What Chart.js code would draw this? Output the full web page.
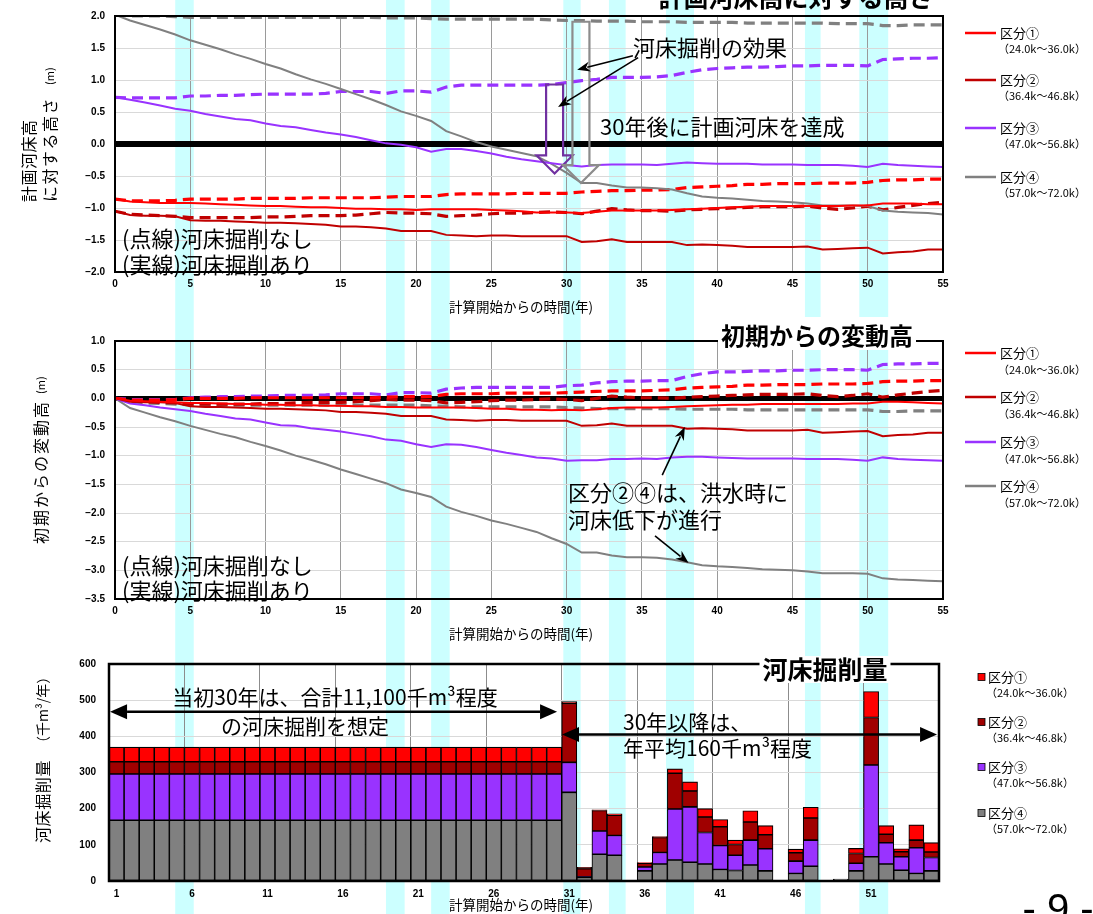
<!DOCTYPE html>
<html>
<head>
<meta charset="utf-8">
<script src="https://cdn.jsdelivr.net/npm/chart.js@4.4.1/dist/chart.umd.min.js"></script>
<style>
  html, body { margin: 0; padding: 0; background: #fff; }
  #page { position: relative; width: 1093px; height: 914px; overflow: hidden; }
  #bands { position: absolute; left: 0; top: 0; }
  canvas.c { position: absolute; left: 0; }
  #c1 { top: 0; }
  #c2 { top: 312px; }
  #c3 { top: 645px; }
</style>
</head>
<body>
<div id="page">
  <canvas id="bands" width="1093" height="914"></canvas>
  <canvas id="c1" class="c" width="1093" height="320"></canvas>
  <canvas id="c2" class="c" width="1093" height="338"></canvas>
  <canvas id="c3" class="c" width="1093" height="269"></canvas>
</div>
<script>
// ---- time axis (years since start of computation) ----
const years = [0,1,2,3,4,5,6,7,8,9,10,11,12,13,14,15,16,17,18,19,20,21,22,23,24,25,26,27,
  28,29,30,31,32,33,34,35,36,37,38,39,40,41,42,43,44,45,46,47,48,49,50,51,52,53,54,55];

// ---- height relative to the planned riverbed (m); Cut = with excavation, None = without ----
const planCut1 = [-0.86,-0.90,-0.91,-0.92,-0.92,-0.92,-0.93,-0.94,-0.95,-0.96,-0.97,-0.97,-0.98,-0.99,-0.99,-1.00,-1.01,-1.01,-1.02,-1.02,-1.03,-1.02,-1.02,-1.02,-1.02,-1.03,-1.04,-1.05,-1.07,-1.07,-1.07,-1.08,-1.06,-1.04,-1.04,-1.04,-1.04,-1.03,-1.02,-1.01,-1.00,-0.99,-0.98,-0.97,-0.97,-0.97,-0.97,-0.97,-0.97,-0.96,-0.96,-0.93,-0.93,-0.93,-0.94,-0.94];
const planNone1 = [-0.86,-0.89,-0.89,-0.89,-0.88,-0.86,-0.86,-0.86,-0.86,-0.85,-0.85,-0.85,-0.85,-0.84,-0.84,-0.84,-0.84,-0.84,-0.83,-0.82,-0.82,-0.82,-0.79,-0.78,-0.78,-0.78,-0.78,-0.77,-0.77,-0.77,-0.77,-0.75,-0.74,-0.73,-0.73,-0.72,-0.72,-0.71,-0.68,-0.67,-0.66,-0.65,-0.63,-0.63,-0.62,-0.62,-0.62,-0.61,-0.61,-0.61,-0.60,-0.57,-0.56,-0.56,-0.55,-0.55];
const planCut2 = [-1.05,-1.11,-1.12,-1.12,-1.13,-1.19,-1.20,-1.20,-1.21,-1.22,-1.23,-1.23,-1.24,-1.25,-1.26,-1.29,-1.29,-1.30,-1.32,-1.36,-1.36,-1.36,-1.42,-1.43,-1.44,-1.43,-1.43,-1.44,-1.44,-1.44,-1.44,-1.53,-1.52,-1.49,-1.53,-1.53,-1.53,-1.53,-1.58,-1.57,-1.58,-1.59,-1.61,-1.61,-1.61,-1.61,-1.60,-1.65,-1.64,-1.63,-1.62,-1.71,-1.69,-1.68,-1.65,-1.65];
const planNone2 = [-1.05,-1.10,-1.11,-1.12,-1.13,-1.15,-1.15,-1.15,-1.15,-1.15,-1.14,-1.14,-1.13,-1.12,-1.12,-1.12,-1.11,-1.09,-1.07,-1.08,-1.08,-1.09,-1.13,-1.12,-1.11,-1.09,-1.08,-1.08,-1.07,-1.06,-1.07,-1.09,-1.05,-1.01,-1.03,-1.04,-1.04,-1.05,-1.03,-1.02,-1.01,-1.00,-0.99,-0.98,-0.98,-0.98,-0.97,-1.00,-1.02,-1.00,-0.97,-1.03,-0.99,-0.96,-0.93,-0.91];
const planCut3 = [0.73,0.69,0.65,0.60,0.55,0.52,0.47,0.43,0.39,0.37,0.32,0.28,0.26,0.22,0.18,0.15,0.11,0.06,0.01,-0.01,-0.05,-0.12,-0.08,-0.08,-0.11,-0.15,-0.20,-0.24,-0.27,-0.30,-0.33,-0.35,-0.33,-0.32,-0.32,-0.32,-0.33,-0.31,-0.29,-0.30,-0.31,-0.31,-0.31,-0.32,-0.32,-0.32,-0.33,-0.33,-0.33,-0.34,-0.36,-0.31,-0.33,-0.34,-0.35,-0.36];
const planNone3 = [0.73,0.72,0.72,0.72,0.72,0.75,0.75,0.76,0.76,0.77,0.78,0.78,0.78,0.78,0.79,0.82,0.82,0.82,0.79,0.83,0.83,0.81,0.89,0.92,0.92,0.92,0.92,0.92,0.92,0.93,0.96,0.99,1.01,1.04,1.04,1.04,1.05,1.07,1.12,1.16,1.18,1.19,1.20,1.20,1.21,1.22,1.22,1.23,1.23,1.23,1.22,1.32,1.33,1.34,1.34,1.35];
const planCut4 = [2.02,1.93,1.86,1.79,1.71,1.62,1.55,1.48,1.40,1.33,1.25,1.18,1.09,1.01,0.94,0.86,0.78,0.70,0.61,0.51,0.44,0.36,0.20,0.12,0.03,-0.04,-0.09,-0.14,-0.19,-0.31,-0.45,-0.61,-0.61,-0.65,-0.68,-0.68,-0.69,-0.71,-0.77,-0.82,-0.84,-0.85,-0.87,-0.89,-0.90,-0.91,-0.93,-0.96,-0.96,-0.96,-0.97,-1.04,-1.06,-1.07,-1.08,-1.10];
const planNone4 = [2.02,2.00,2.00,2.00,1.99,1.98,1.98,1.98,1.98,1.98,1.98,1.98,1.98,1.98,1.98,1.98,1.98,1.98,1.97,1.97,1.97,1.96,1.95,1.95,1.95,1.95,1.95,1.95,1.95,1.94,1.93,1.93,1.92,1.92,1.92,1.91,1.91,1.91,1.90,1.90,1.90,1.90,1.89,1.89,1.89,1.89,1.89,1.89,1.88,1.88,1.88,1.85,1.85,1.86,1.86,1.86];

// ---- change from the initial bed (m) ----
const chgCut1 = [0,-0.04,-0.05,-0.06,-0.07,-0.08,-0.08,-0.09,-0.10,-0.10,-0.11,-0.11,-0.12,-0.12,-0.13,-0.13,-0.14,-0.14,-0.15,-0.15,-0.16,-0.16,-0.16,-0.16,-0.17,-0.18,-0.18,-0.20,-0.20,-0.21,-0.20,-0.21,-0.19,-0.17,-0.16,-0.16,-0.16,-0.15,-0.14,-0.13,-0.12,-0.11,-0.11,-0.10,-0.10,-0.10,-0.10,-0.10,-0.10,-0.09,-0.09,-0.06,-0.06,-0.07,-0.08,-0.09];
const chgNone1 = [0,-0.03,-0.03,-0.03,-0.02,0.00,0.00,0.00,0.00,0.01,0.01,0.01,0.01,0.01,0.01,0.01,0.01,0.01,0.02,0.03,0.03,0.03,0.07,0.08,0.08,0.08,0.09,0.09,0.09,0.09,0.10,0.11,0.12,0.13,0.13,0.13,0.14,0.15,0.18,0.19,0.20,0.21,0.23,0.23,0.24,0.24,0.24,0.25,0.25,0.25,0.26,0.29,0.30,0.30,0.31,0.31];
const chgCut2 = [0,-0.06,-0.07,-0.07,-0.08,-0.14,-0.15,-0.15,-0.16,-0.17,-0.18,-0.18,-0.19,-0.20,-0.21,-0.24,-0.24,-0.25,-0.27,-0.31,-0.31,-0.31,-0.37,-0.38,-0.39,-0.38,-0.38,-0.39,-0.39,-0.39,-0.39,-0.48,-0.47,-0.44,-0.48,-0.48,-0.48,-0.48,-0.53,-0.52,-0.53,-0.54,-0.56,-0.56,-0.56,-0.56,-0.55,-0.60,-0.59,-0.58,-0.57,-0.66,-0.64,-0.63,-0.60,-0.60];
const chgNone2 = [0,-0.05,-0.06,-0.07,-0.08,-0.10,-0.10,-0.10,-0.10,-0.10,-0.09,-0.09,-0.08,-0.07,-0.07,-0.07,-0.06,-0.04,-0.02,-0.03,-0.03,-0.04,-0.08,-0.07,-0.06,-0.04,-0.03,-0.03,-0.02,-0.01,-0.02,-0.04,0.00,0.04,0.02,0.01,0.01,0.00,0.02,0.03,0.04,0.05,0.06,0.07,0.07,0.07,0.08,0.05,0.03,0.05,0.08,0.02,0.06,0.09,0.12,0.14];
const chgCut3 = [0,-0.09,-0.12,-0.16,-0.19,-0.22,-0.27,-0.31,-0.35,-0.37,-0.42,-0.47,-0.48,-0.52,-0.55,-0.58,-0.62,-0.66,-0.72,-0.74,-0.80,-0.85,-0.80,-0.81,-0.85,-0.90,-0.95,-0.99,-1.03,-1.05,-1.09,-1.08,-1.08,-1.06,-1.06,-1.05,-1.06,-1.03,-1.02,-1.02,-1.03,-1.04,-1.05,-1.05,-1.05,-1.05,-1.06,-1.06,-1.06,-1.07,-1.09,-1.03,-1.06,-1.07,-1.08,-1.09];
const chgNone3 = [0,-0.02,-0.02,-0.02,-0.02,0.01,0.02,0.03,0.03,0.04,0.04,0.05,0.05,0.05,0.06,0.08,0.08,0.08,0.06,0.10,0.10,0.09,0.16,0.18,0.19,0.19,0.19,0.19,0.19,0.19,0.22,0.23,0.27,0.29,0.30,0.30,0.31,0.31,0.38,0.43,0.46,0.46,0.47,0.48,0.48,0.49,0.49,0.50,0.50,0.50,0.49,0.59,0.60,0.60,0.61,0.61];
const chgCut4 = [0,-0.17,-0.25,-0.33,-0.40,-0.48,-0.55,-0.62,-0.68,-0.76,-0.83,-0.91,-1.00,-1.07,-1.15,-1.24,-1.32,-1.40,-1.48,-1.59,-1.65,-1.72,-1.89,-1.98,-2.05,-2.13,-2.19,-2.26,-2.33,-2.44,-2.54,-2.69,-2.69,-2.74,-2.77,-2.77,-2.78,-2.81,-2.86,-2.91,-2.93,-2.94,-2.96,-2.98,-2.99,-3.00,-3.02,-3.05,-3.05,-3.05,-3.06,-3.14,-3.16,-3.17,-3.18,-3.19];
const chgNone4 = [0,-0.06,-0.08,-0.09,-0.10,-0.11,-0.12,-0.12,-0.12,-0.12,-0.12,-0.12,-0.12,-0.12,-0.12,-0.12,-0.12,-0.12,-0.12,-0.12,-0.12,-0.13,-0.14,-0.15,-0.15,-0.15,-0.15,-0.15,-0.15,-0.15,-0.16,-0.17,-0.18,-0.18,-0.18,-0.18,-0.18,-0.18,-0.19,-0.19,-0.19,-0.19,-0.20,-0.20,-0.20,-0.20,-0.20,-0.20,-0.20,-0.20,-0.20,-0.23,-0.23,-0.22,-0.22,-0.22];

// ---- annual excavation volume (thousand m3 / year) ----
const barYears = [1,2,3,4,5,6,7,8,9,10,11,12,13,14,15,16,17,18,19,20,21,22,23,24,25,26,27,28,29,30,
  31,32,33,34,35,36,37,38,39,40,41,42,43,44,45,46,47,48,49,50,51,52,53,54,55];
const dig1 = [40,40,40,40,40,40,40,40,40,40,40,40,40,40,40,40,40,40,40,40,40,40,40,40,40,40,40,40,40,40,
  5,4,2,4,0,2,3,12,25,23,20,12,31,25,0,10,30,0,0,14,72,24,8,42,26];
const dig2 = [34,34,34,34,34,34,34,34,34,34,34,34,34,34,34,34,34,34,34,34,34,34,34,34,34,34,34,34,34,34,
  163,22,57,56,0,10,41,99,44,43,52,30,50,39,0,23,61,0,0,27,131,23,14,21,15];
const dig3 = [128,128,128,128,128,128,128,128,128,128,128,128,128,128,128,128,128,128,128,128,128,128,128,128,128,128,128,128,128,128,
  83,2,64,55,0,11,32,141,153,87,66,42,69,61,0,34,72,0,0,21,254,59,37,71,37];
const dig4 = [168,168,168,168,168,168,168,168,168,168,168,168,168,168,168,168,168,168,168,168,168,168,168,168,168,168,168,168,168,168,
  245,10,74,71,0,28,47,58,52,47,32,29,44,28,0,21,41,0,5,28,67,47,30,21,28];

// ---- sections, colours, flood years ----
const sectionNames = ['区分①', '区分②', '区分③', '区分④'];
const sectionRanges = ['（24.0k～36.0k）', '（36.4k～46.8k）', '（47.0k～56.8k）', '（57.0k～72.0k）'];
const lineColors = ['#FF0000', '#C00000', '#9933FF', '#808080'];
const barColors = ['#FF0000', '#A00000', '#9933FF', '#808080'];
const floodBands = [[4.0, 5.23], [18.0, 19.24], [21.0, 22.23], [29.78, 30.93], [32.81, 33.92], [36.6, 38.46], [45.83, 46.87], [49.44, 51.36]];

const JP = "'Noto Sans CJK JP', 'Noto Sans', sans-serif";
Chart.defaults.font.family = "'Liberation Sans', Arial, sans-serif";
Chart.defaults.color = '#000';

const pts = arr => years.map((t, i) => ({ x: t, y: arr[i] }));
function lineDs(label, arr, color, dashed) {
  return {
    label, data: pts(arr), borderColor: color, backgroundColor: color,
    borderWidth: dashed ? 3.2 : 2, borderDash: dashed ? [11, 6] : [],
    pointRadius: 0, tension: 0, fill: false
  };
}
const isZero = c => c.tick && Math.abs(c.tick.value) < 1e-9;
const tickFont = { size: 10, weight: 'bold' };

function lineScales(min, max, xAxisH, zeroW) {
  return {
    x: {
      type: 'linear', min: 0, max: 55,
      afterFit: s => { s.height = xAxisH; },
      ticks: { stepSize: 5, padding: 6, maxRotation: 0, font: tickFont },
      grid: { drawTicks: false, color: c => (c.tick && c.tick.value > 0 && c.tick.value < 55) ? '#9a9a9a' : 'rgba(0,0,0,0)' },
      border: { display: false }
    },
    y: {
      min, max,
      afterFit: s => { s.width = 115; },
      ticks: { stepSize: 0.5, padding: 10, font: tickFont, callback: v => (v < -1e-9 ? '−' : '') + Math.abs(v).toFixed(1) },
      grid: { drawTicks: false, color: c => isZero(c) ? '#000' : '#d9d9d9', lineWidth: c => isZero(c) ? zeroW : 1 },
      border: { display: false }
    }
  };
}

// ---- drawing helpers ----
function drawRotated(ctx, x, y, parts) {
  ctx.save();
  ctx.translate(x, y);
  ctx.rotate(-Math.PI / 2);
  ctx.textAlign = 'left';
  ctx.textBaseline = 'middle';
  ctx.fillStyle = '#000';
  let cx = 0;
  for (const p of parts) {
    if (p.gap) { cx += p.gap; continue; }
    ctx.font = `${p.size}px ${JP}`;
    ctx.letterSpacing = (p.spacing || 0) + 'px';
    ctx.fillText(p.text, cx, 0);
    cx += ctx.measureText(p.text).width;
  }
  ctx.restore();
}
function pointer(ctx, x1, y1, x2, y2) {
  const a = Math.atan2(y2 - y1, x2 - x1), L = 13, W = 5;
  const c = Math.cos(a), s = Math.sin(a);
  ctx.save();
  ctx.strokeStyle = '#000'; ctx.fillStyle = '#000'; ctx.lineWidth = 1.6;
  ctx.beginPath(); ctx.moveTo(x1, y1); ctx.lineTo(x2 - L * 0.8 * c, y2 - L * 0.8 * s); ctx.stroke();
  ctx.beginPath();
  ctx.moveTo(x2, y2);
  ctx.lineTo(x2 - L * c + W * s, y2 - L * s - W * c);
  ctx.lineTo(x2 - L * 0.7 * c, y2 - L * 0.7 * s);
  ctx.lineTo(x2 - L * c - W * s, y2 - L * s + W * c);
  ctx.closePath(); ctx.fill();
  ctx.restore();
}
function hollowDown(ctx, x, yTop, yTip, color) {
  const sw = 8.5, hw = 18, hh = 18;
  ctx.save();
  ctx.strokeStyle = color; ctx.lineWidth = 2.2; ctx.lineJoin = 'miter';
  ctx.beginPath();
  ctx.moveTo(x - sw, yTop); ctx.lineTo(x + sw, yTop); ctx.lineTo(x + sw, yTip - hh);
  ctx.lineTo(x + hw, yTip - hh); ctx.lineTo(x, yTip); ctx.lineTo(x - hw, yTip - hh);
  ctx.lineTo(x - sw, yTip - hh); ctx.closePath();
  ctx.stroke();
  ctx.restore();
}
function doubleArrow(ctx, x1, x2, y) {
  const L = 17, H = 7.5;
  ctx.save();
  ctx.strokeStyle = '#000'; ctx.fillStyle = '#000'; ctx.lineWidth = 2.5;
  ctx.beginPath(); ctx.moveTo(x1 + L, y); ctx.lineTo(x2 - L, y); ctx.stroke();
  ctx.beginPath(); ctx.moveTo(x1, y); ctx.lineTo(x1 + L, y - H); ctx.lineTo(x1 + L, y + H); ctx.closePath(); ctx.fill();
  ctx.beginPath(); ctx.moveTo(x2, y); ctx.lineTo(x2 - L, y - H); ctx.lineTo(x2 - L, y + H); ctx.closePath(); ctx.fill();
  ctx.restore();
}

// ---- frame, titles, legend and notes drawn on top of each chart ----
function decoPlugin(cfg) {
  return {
    id: 'deco',
    afterDraw(chart) {
      const { ctx, chartArea: a, scales } = chart;
      ctx.save();
      ctx.strokeStyle = '#000';
      ctx.lineWidth = cfg.frame;
      ctx.strokeRect(a.left, a.top, a.right - a.left, a.bottom - a.top);

      if (cfg.annotate) cfg.annotate(ctx, scales.x, scales.y);

      ctx.fillStyle = '#000';
      ctx.textBaseline = 'middle';
      for (const t of cfg.texts || []) {
        ctx.font = `${t.weight || 'normal'} ${t.size}px ${JP}`;
        ctx.textAlign = t.align || 'left';
        ctx.fillText(t.text, t.x, t.y);
      }

      const T = cfg.title;
      ctx.font = `bold ${T.size}px ${JP}`;
      ctx.textAlign = 'center';
      if (T.box) {
        const w = ctx.measureText(T.text).width;
        ctx.fillStyle = '#fff';
        ctx.fillRect(T.x - w / 2 - 3, T.box[0], w + 6, T.box[1] - T.box[0]);
      }
      ctx.fillStyle = '#000';
      ctx.fillText(T.text, T.x, T.y);

      ctx.font = `13.5px ${JP}`;
      ctx.textAlign = 'center';
      ctx.fillText('計算開始からの時間(年)', cfg.xTitle.x, cfg.xTitle.y);

      for (const col of cfg.yTitle) drawRotated(ctx, col.x, col.y, col.parts);

      const L = cfg.legend;
      ctx.textAlign = 'left';
      sectionNames.forEach((name, i) => {
        const y = L.ys[i];
        if (L.kind === 'line') {
          ctx.strokeStyle = lineColors[i]; ctx.lineWidth = 2.5; ctx.setLineDash([]);
          ctx.beginPath(); ctx.moveTo(965, y); ctx.lineTo(996, y); ctx.stroke();
        } else {
          ctx.fillStyle = barColors[i];
          ctx.fillRect(978, y - 3.5, 7, 7);
          ctx.strokeStyle = '#000'; ctx.lineWidth = 0.8;
          ctx.strokeRect(978, y - 3.5, 7, 7);
        }
        ctx.fillStyle = '#000';
        ctx.font = `13px ${JP}`;
        ctx.fillText(name, L.tx, y);
        ctx.font = `11px ${JP}`;
        ctx.fillText(sectionRanges[i], L.tx - 2, y + L.sub);
      });
      ctx.restore();
    }
  };
}

const baseOpts = {
  responsive: false, animation: false, devicePixelRatio: 1,
  plugins: { legend: { display: false }, tooltip: { enabled: false } }
};

function lineSets(cut, none) {
  return [
    lineDs('区分① 掘削あり', cut[0], lineColors[0], false),
    lineDs('区分② 掘削あり', cut[1], lineColors[1], false),
    lineDs('区分③ 掘削あり', cut[2], lineColors[2], false),
    lineDs('区分④ 掘削あり', cut[3], lineColors[3], false),
    lineDs('区分① 掘削なし', none[0], lineColors[0], true),
    lineDs('区分② 掘削なし', none[1], lineColors[1], true),
    lineDs('区分③ 掘削なし', none[2], lineColors[2], true),
    lineDs('区分④ 掘削なし', none[3], lineColors[3], true)
  ];
}

// ---- chart 1: height relative to the planned riverbed ----
const chart1 = new Chart(document.getElementById('c1'), {
  type: 'line',
  data: { datasets: lineSets([planCut1, planCut2, planCut3, planCut4], [planNone1, planNone2, planNone3, planNone4]) },
  options: Object.assign({}, baseOpts, {
    layout: { padding: { left: 0, right: 150, top: 15, bottom: 0 } },
    scales: lineScales(-2, 2, 48, 6)
  }),
  plugins: [decoPlugin({
    frame: 2,
    title: { text: '計画河床高に対する高さ', x: 796, y: -3, size: 25 },
    xTitle: { x: 521, y: 307 },
    yTitle: [
      { x: 29, y: 202, parts: [{ text: '計画河床高', size: 16, spacing: 0.5 }] },
      { x: 50, y: 202, parts: [{ text: 'に対する高さ', size: 16, spacing: 1.5 }, { gap: 12 }, { text: '(m)', size: 11 }] }
    ],
    legend: { kind: 'line', ys: [33, 80, 128, 177], sub: 16, tx: 1000 },
    texts: [
      { text: '河床掘削の効果', x: 633, y: 48, size: 22 },
      { text: '30年後に計画河床を達成', x: 600, y: 127, size: 22 },
      { text: '(点線)河床掘削なし', x: 122, y: 239, size: 22 },
      { text: '(実線)河床掘削あり', x: 122, y: 265, size: 22 }
    ],
    annotate(ctx, x, y) {
      hollowDown(ctx, x.getPixelForValue(29.2), y.getPixelForValue(0.93), y.getPixelForValue(-0.46), '#7030A0');
      hollowDown(ctx, x.getPixelForValue(30.95), y.getPixelForValue(1.91), y.getPixelForValue(-0.61), '#8c8c8c');
      pointer(ctx, x.getPixelForValue(34.4), y.getPixelForValue(1.38), x.getPixelForValue(30.7), y.getPixelForValue(1.16));
      pointer(ctx, x.getPixelForValue(34.75), y.getPixelForValue(1.35), x.getPixelForValue(29.43), y.getPixelForValue(0.58));
    }
  })]
});

// ---- chart 2: change from the initial bed ----
new Chart(document.getElementById('c2'), {
  type: 'line',
  data: { datasets: lineSets([chgCut1, chgCut2, chgCut3, chgCut4], [chgNone1, chgNone2, chgNone3, chgNone4]) },
  options: Object.assign({}, baseOpts, {
    layout: { padding: { left: 0, right: 150, top: 29, bottom: 0 } },
    scales: lineScales(-3.5, 1, 51, 5)
  }),
  plugins: [decoPlugin({
    frame: 2,
    title: { text: '初期からの変動高', x: 817, y: 24, size: 24, box: [5, 38] },
    xTitle: { x: 521, y: 322 },
    yTitle: [
      { x: 41, y: 232, parts: [{ text: '初期からの変動高', size: 16, spacing: 2 }, { gap: 6 }, { text: '(m)', size: 11 }] }
    ],
    legend: { kind: 'line', ys: [41, 85, 130, 174], sub: 17, tx: 1000 },
    texts: [
      { text: '区分②④は、洪水時に', x: 568, y: 181, size: 22 },
      { text: '河床低下が進行', x: 568, y: 208, size: 22 },
      { text: '(点線)河床掘削なし', x: 122, y: 254, size: 22 },
      { text: '(実線)河床掘削あり', x: 122, y: 279, size: 22 }
    ],
    annotate(ctx, x, y) {
      pointer(ctx, x.getPixelForValue(36.35), y.getPixelForValue(-1.34), x.getPixelForValue(37.85), y.getPixelForValue(-0.50));
      pointer(ctx, x.getPixelForValue(35.87), y.getPixelForValue(-2.40), x.getPixelForValue(38.1), y.getPixelForValue(-2.87));
    }
  })]
});

// ---- chart 3: annual excavation volume (stacked) ----
new Chart(document.getElementById('c3'), {
  type: 'bar',
  data: {
    labels: barYears,
    datasets: [
      { label: sectionNames[3], data: dig4, backgroundColor: barColors[3] },
      { label: sectionNames[2], data: dig3, backgroundColor: barColors[2] },
      { label: sectionNames[1], data: dig2, backgroundColor: barColors[1] },
      { label: sectionNames[0], data: dig1, backgroundColor: barColors[0] }
    ]
  },
  options: Object.assign({}, baseOpts, {
    layout: { padding: { left: 0, right: 154, top: 18, bottom: 0 } },
    datasets: { bar: { barPercentage: 1, categoryPercentage: 1, borderColor: '#000', borderWidth: 1.1, borderSkipped: false } },
    scales: {
      x: {
        stacked: true,
        afterFit: s => { s.height = 33; },
        ticks: { autoSkip: false, maxRotation: 0, padding: 7, font: tickFont, callback: (v, i) => i % 5 === 0 ? String(barYears[i]) : '' },
        grid: { offset: true, drawTicks: false, color: c => (c.index % 5 === 0 && c.index > 0 && c.index < barYears.length) ? '#8c8c8c' : 'rgba(0,0,0,0)' },
        border: { display: false }
      },
      y: {
        stacked: true, min: 0, max: 600,
        afterFit: s => { s.width = 109; },
        ticks: { stepSize: 100, padding: 13, font: tickFont },
        grid: { drawTicks: false, color: '#d9d9d9' },
        border: { display: false }
      }
    }
  }),
  plugins: [decoPlugin({
    frame: 2.5,
    title: { text: '河床掘削量', x: 825, y: 24, size: 25, box: [11, 38] },
    xTitle: { x: 521, y: 260 },
    yTitle: [
      { x: 43, y: 198, parts: [{ text: '河床掘削量', size: 16, spacing: 0.6 }, { gap: 10 }, { text: '（千m³/年）', size: 14 }] }
    ],
    legend: { kind: 'box', ys: [32, 77, 122, 168], sub: 16, tx: 988 },
    texts: [
      { text: '当初30年は、合計11,100千m³程度', x: 335, y: 52, size: 21, align: 'center' },
      { text: 'の河床掘削を想定', x: 305, y: 81, size: 21, align: 'center' },
      { text: '30年以降は、', x: 623, y: 77, size: 21 },
      { text: '年平均160千m³程度', x: 623, y: 103, size: 21 }
    ],
    annotate(ctx, x, y) {
      const step = x.getPixelForValue(1) - x.getPixelForValue(0);
      const px = v => x.getPixelForValue(Math.floor(v)) + (v - Math.floor(v)) * step;
      doubleArrow(ctx, px(-0.43), px(29.19), y.getPixelForValue(468));
      doubleArrow(ctx, px(29.52), px(54.37), y.getPixelForValue(405));
    }
  })]
});

// ---- flood-year bands behind all panels, placed with the time scale ----
(function drawBands() {
  const cv = document.getElementById('bands');
  const ctx = cv.getContext('2d');
  const xs = chart1.scales.x;
  ctx.fillStyle = '#ccffff';
  for (const [a, b] of floodBands) {
    const x1 = xs.getPixelForValue(a), x2 = xs.getPixelForValue(b);
    ctx.fillRect(x1, 0, x2 - x1, cv.height);
  }
  ctx.fillStyle = '#000';
  ctx.font = "40px 'Liberation Sans', Arial, sans-serif";
  ctx.textAlign = 'center';
  ctx.textBaseline = 'alphabetic';
  ctx.fillText('- 9 -', 1058, 922);
})();
</script>
</body>
</html>
